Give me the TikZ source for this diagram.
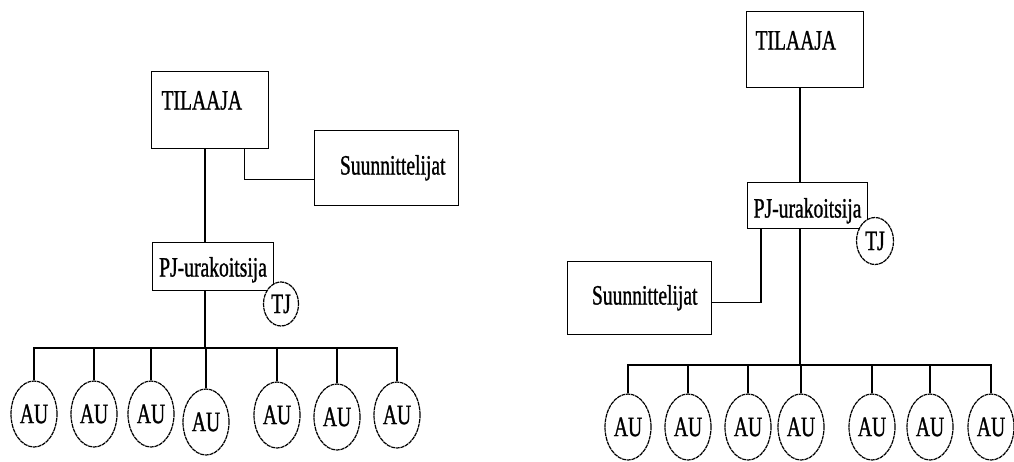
\documentclass[tikz,border=0pt]{standalone}
\usepackage{fontspec}
\setmainfont{Liberation Serif}[FakeStretch=0.7, FakeBold=1]
\usepackage{tikz}
\usetikzlibrary{shapes.geometric}

\begin{document}
\begin{tikzpicture}[
    x=1pt, y=-1pt,
    txt/.style={font=\fontsize{28}{32}\selectfont},
    box/.style={draw, txt, line width=1.1pt, inner ysep=0pt, anchor=north west},
    au/.style={draw, ellipse, txt, minimum width=46pt, minimum height=66pt, inner sep=0pt, fill=white, line width=1.2pt, dash pattern=on 4pt off 0.7pt},
    tj/.style={au, minimum width=35pt, minimum height=44pt},
    line/.style={line width=1.1pt}
]
\useasboundingbox (0,0) rectangle (1014,462);

% left: designers hang off the client
\node[box, align=left, inner xsep=10pt, text width=97pt, text height=38pt, text depth=39pt] (tilL) at (151,71) {TILAAJA};
\node[box, align=right, inner xsep=13pt, text width=118pt, text height=44pt, text depth=31pt] (suuL) at (314,130) {Suunnittelijat};
\node[box, align=center, inner xsep=0pt, text width=121pt, text height=34pt, text depth=14pt] (pjL) at (152,242) {PJ-urakoitsija};
\node[tj] (tjL) at (281,304) {TJ};
\foreach \x/\y [count=\i] in {34/414,94/414,151/414,206/422,277/415,337/417,397/415}
    \node[au] (auL\i) at (\x,\y) {AU};
\coordinate (busL) at (205,348);

\draw[line] (tilL.south -| busL) -- (pjL.north -| busL);
\draw[line] ([xshift=-25pt]tilL.south east) |- ([yshift=-11.5pt]suuL.west);
\draw[line] (pjL.south -| busL) -- (busL);
\draw[line] (auL1.north) -- (auL1.north |- busL) -- (auL7.north |- busL) -- (auL7.north);
\foreach \i in {2,...,6}
    \draw[line] (auL\i.north) -- (auL\i.north |- busL);

% right: designers hang off the main contractor
\node[box, align=left, inner xsep=9pt, text width=99pt, text height=38pt, text depth=38pt] (tilR) at (746,11) {TILAAJA};
\node[box, align=center, inner xsep=0pt, text width=120pt, text height=35pt, text depth=11pt] (pjR) at (747,182) {PJ-urakoitsija};
\node[tj, minimum width=37pt, minimum height=47pt] (tjR) at (875,241) {TJ};
\node[box, align=right, inner xsep=14pt, text width=116pt, text height=43pt, text depth=30pt] (suuR) at (567,261) {Suunnittelijat};
\foreach \x [count=\i] in {628,688,748,801,872,930,991}
    \node[au] (auR\i) at (\x,427) {AU};
\coordinate (busR) at (800,365);

\draw[line] (tilR.south -| busR) -- (pjR.north -| busR);
\draw[line] ([xshift=14pt]pjR.south west) |- ([yshift=-4.5pt]suuR.east);
\draw[line] (pjR.south -| busR) -- (busR);
\draw[line] (auR1.north) -- (auR1.north |- busR) -- (auR7.north |- busR) -- (auR7.north);
\foreach \i in {2,...,6}
    \draw[line] (auR\i.north) -- (auR\i.north |- busR);
\end{tikzpicture}
\end{document}
